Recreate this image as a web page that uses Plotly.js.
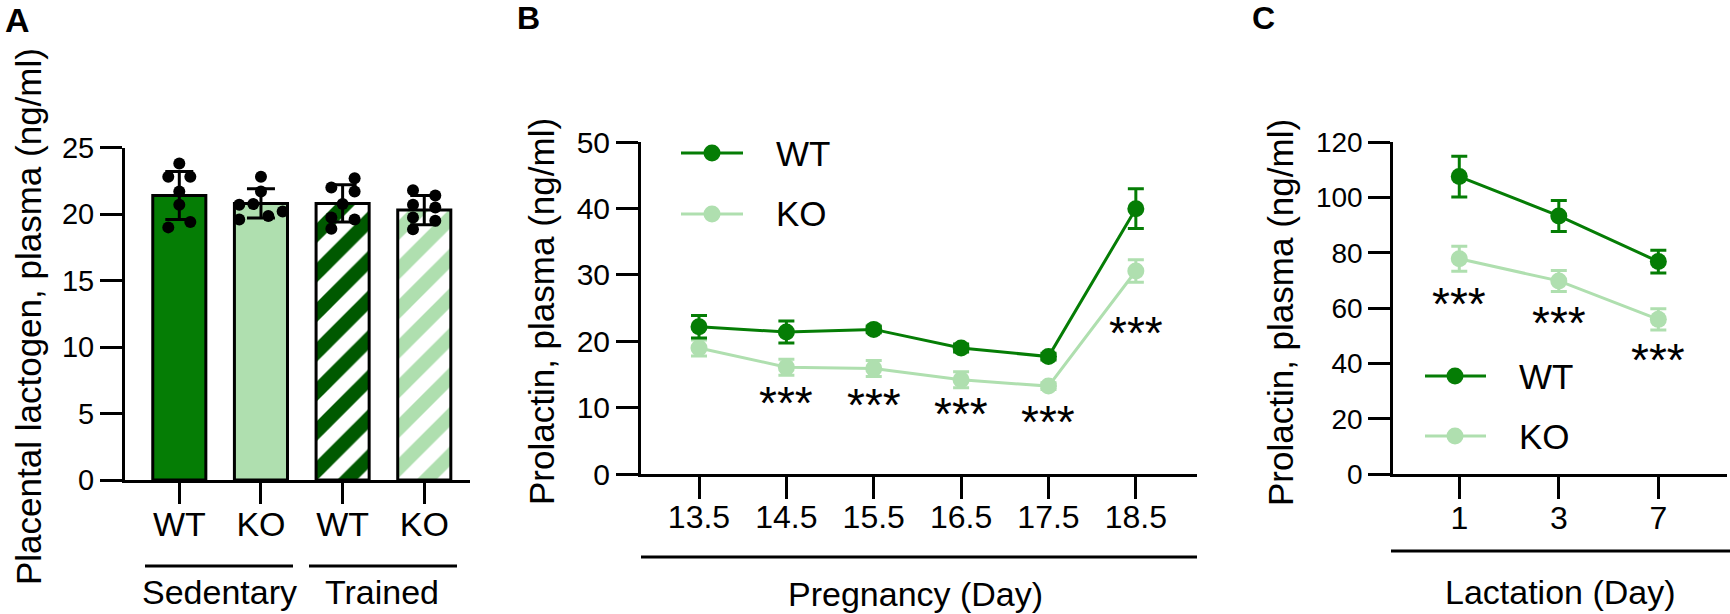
<!DOCTYPE html>
<html>
<head>
<meta charset="utf-8">
<script src="https://cdn.plot.ly/plotly-3.0.1.min.js"></script>
<style>html,body{margin:0;padding:0;background:#fff;}#chart{width:1730px;height:614px;}</style>
</head>
<body>
<div id="chart"></div>
<script>
// ---------- DATA ----------
// Panel A: placental lactogen (bars = mean, error = SD, dots = individual animals)
const catA = ['WT', 'KO', 'WT', 'KO'];
const groupsA = ['Sedentary', 'Trained'];
const meanA = [21.4, 20.8, 20.8, 20.3];
const sdA = [1.8, 1.1, 1.4, 1.1];
const dotsA = [
  [23.8, 22.8, 22.8, 21.7, 20.7, 19.0, 19.4],
  [22.8, 21.7, 20.7, 20.75, 19.6, 19.85, 20.2],
  [22.0, 22.7, 21.7, 20.75, 19.75, 19.6, 18.9],
  [21.8, 21.4, 20.7, 20.5, 19.75, 19.5, 18.85]
];
const jitterA = [
  [0, -0.135, 0.135, 0, 0, -0.135, 0.135],
  [0, 0, -0.266, -0.094, -0.266, 0.09, 0.266],
  [-0.138, 0.147, 0.147, 0, -0.138, 0.147, -0.138],
  [-0.138, 0.135, -0.138, 0.135, -0.138, 0.135, -0.138]
];
// Panel B: prolactin during pregnancy
const daysB = ['13.5', '14.5', '15.5', '16.5', '17.5', '18.5'];
const wtB = [22.2, 21.4, 21.8, 19.0, 17.7, 40.0];
const wtBerr = [1.7, 1.65, 0.5, 0.6, 0.5, 3.0];
const koB = [19.0, 16.1, 15.9, 14.2, 13.25, 30.6];
const koBerr = [1.2, 1.2, 1.2, 1.2, 0.5, 1.7];
const sigB = ['', '***', '***', '***', '***', '***'];
const sigYB = [null, 12.2, 11.9, 10.5, 9.4, 22.7];
// Panel C: prolactin during lactation
const daysC = ['1', '3', '7'];
const wtC = [107.6, 93.4, 76.9];
const wtCerr = [7.4, 5.6, 4.1];
const koC = [77.9, 69.9, 56.0];
const koCerr = [4.5, 3.8, 3.8];
const sigC = ['***', '***', '***'];
const sigYC = [65.2, 58.4, 45.0];
const seriesNames = ['WT', 'KO'];

// ---------- STYLE ----------
const W = 1730, H = 614;
const FONT = 'Liberation Sans, Arial, Helvetica, sans-serif';
const DARK = '#057d05', LIGHT = '#afdfaf', STRIPE = '#005900';
const fx = p => p / W;
const fy = p => 1 - p / H;
// per-bar fill style for panel A (solid, solid, hatched, hatched)
const barStyleA = [
  {fill: DARK, hatch: null},
  {fill: LIGHT, hatch: null},
  {fill: '#ffffff', hatch: STRIPE},
  {fill: '#ffffff', hatch: LIGHT}
];

function axisBase(extra) {
  return Object.assign({
    showline: true, linewidth: 3, linecolor: '#000', mirror: false,
    ticks: 'outside', ticklen: 22, tickwidth: 3, tickcolor: '#000',
    showgrid: false, zeroline: false, fixedrange: true,
    tickfont: {family: FONT, size: 30, color: '#000'}
  }, extra);
}

const traces = [];
// A bars (one trace per bar so each gets its own fill / hatch)
meanA.forEach((m, i) => {
  const st = barStyleA[i];
  const marker = {color: st.fill, line: {color: '#000', width: 3}};
  if (st.hatch) {
    marker.pattern = {shape: '/', fgcolor: st.hatch, bgcolor: '#ffffff', fgopacity: 1, size: 28, solidity: 0.5, fillmode: 'replace'};
  }
  traces.push({
    type: 'bar', x: [i], y: [m], xaxis: 'x', yaxis: 'y', width: 0.65,
    marker: marker,
    error_y: {type: 'data', array: [sdA[i]], visible: true, color: '#000', thickness: 3, width: 14},
    cliponaxis: false, hoverinfo: 'skip'
  });
});
// A dots
const dx = [], dy = [];
dotsA.forEach((arr, i) => arr.forEach((v, j) => { dx.push(i + jitterA[i][j]); dy.push(v); }));
traces.push({
  type: 'scatter', mode: 'markers', x: dx, y: dy, xaxis: 'x', yaxis: 'y',
  marker: {color: '#000', size: 12}, cliponaxis: false, hoverinfo: 'skip'
});
// B / C lines
function lineTrace(x, y, err, color, xa, ya) {
  return {
    type: 'scatter', mode: 'lines+markers', x: x, y: y, xaxis: xa, yaxis: ya,
    line: {color: color, width: 3}, marker: {color: color, size: 17},
    error_y: {type: 'data', array: err, visible: true, color: color, thickness: 3, width: 8},
    cliponaxis: false, hoverinfo: 'skip'
  };
}
traces.push(lineTrace(daysB, koB, koBerr, LIGHT, 'x2', 'y2'));
traces.push(lineTrace(daysB, wtB, wtBerr, DARK, 'x2', 'y2'));
traces.push(lineTrace(daysC, koC, koCerr, LIGHT, 'x3', 'y3'));
traces.push(lineTrace(daysC, wtC, wtCerr, DARK, 'x3', 'y3'));

const annotations = [];
const shapes = [];
function txt(text, x, y, size, opts) {
  annotations.push(Object.assign({
    text: text, x: fx(x), y: fy(y), xref: 'paper', yref: 'paper',
    xanchor: 'center', yanchor: 'middle', showarrow: false,
    font: {family: FONT, size: size, color: '#000'}
  }, opts || {}));
}
function hline(x0, x1, y) {
  shapes.push({type: 'line', xref: 'paper', yref: 'paper', x0: fx(x0), x1: fx(x1), y0: fy(y), y1: fy(y), line: {color: '#000', width: 3}});
}
// panel letters
txt('<b>A</b>', 17, 20, 34);
txt('<b>B</b>', 528, 18, 32);
txt('<b>C</b>', 1263, 18, 32);
// y titles
txt('Placental lactogen, plasma (ng/ml)', 28, 317, 35, {textangle: -90});
txt('Prolactin, plasma (ng/ml)', 541, 312, 35, {textangle: -90});
txt('Prolactin, plasma (ng/ml)', 1280, 313, 35, {textangle: -90});
// group labels A
hline(145, 293, 566); hline(309, 457, 566);
txt(groupsA[0], 219, 592, 34);
txt(groupsA[1], 382, 592, 34);
// x titles
hline(641, 1197, 557);
txt('Pregnancy (Day)', 916, 594, 34);
hline(1391, 1730, 551);
txt('Lactation (Day)', 1560, 592, 34);
// significance stars
sigB.forEach((s, i) => { if (s) annotations.push({text: s, x: i, y: sigYB[i], xref: 'x2', yref: 'y2', showarrow: false, yshift: -10, font: {family: FONT, size: 46, color: '#000'}}); });
sigC.forEach((s, i) => { if (s) annotations.push({text: s, x: i, y: sigYC[i], xref: 'x3', yref: 'y3', showarrow: false, yshift: -10, font: {family: FONT, size: 46, color: '#000'}}); });
// legends (line + marker samples)
function legendItem(xl0, xl1, xm, y, color, label, xt) {
  shapes.push({type: 'line', xref: 'paper', yref: 'paper', x0: fx(xl0), x1: fx(xl1), y0: fy(y), y1: fy(y), line: {color: color, width: 3}});
  shapes.push({type: 'circle', xref: 'paper', yref: 'paper', xsizemode: 'pixel', ysizemode: 'pixel', xanchor: fx(xm), yanchor: fy(y), x0: -8.5, x1: 8.5, y0: -8.5, y1: 8.5, fillcolor: color, line: {width: 0}});
  txt(label, xt, y, 35, {xanchor: 'left'});
}
legendItem(681, 743, 712, 153, DARK, seriesNames[0], 774);
legendItem(681, 743, 712, 214, LIGHT, seriesNames[1], 774);
legendItem(1425, 1486, 1455, 376, DARK, seriesNames[0], 1517);
legendItem(1425, 1486, 1455, 436, LIGHT, seriesNames[1], 1517);

const layout = {
  width: W, height: H, autosize: false, showlegend: false,
  margin: {l: 0, r: 0, t: 0, b: 0, pad: 0},
  paper_bgcolor: '#fff', plot_bgcolor: 'rgba(0,0,0,0)',
  font: {family: FONT, color: '#000'},
  barmode: 'overlay', bargap: 0,
  xaxis: axisBase({domain: [fx(125), fx(470)], range: [-0.665, 3.56], tickvals: [0, 1, 2, 3], ticktext: catA, ticklen: 21, tickfont: {family: FONT, size: 34, color: '#000'}, ticklabelstandoff: -9, anchor: 'y'}),
  yaxis: axisBase({domain: [fy(480), fy(147.6)], range: [0, 25], tickvals: [0, 5, 10, 15, 20, 25], tickfont: {family: FONT, size: 29, color: '#000'}, anchor: 'x'}),
  xaxis2: axisBase({domain: [fx(641), fx(1197)], range: [-0.664, 5.70], type: 'category', tickfont: {family: FONT, size: 32, color: '#000'}, ticklabelstandoff: -9, anchor: 'y2'}),
  yaxis2: axisBase({domain: [fy(474), fy(142.3)], range: [0, 50], tickvals: [0, 10, 20, 30, 40, 50], tickfont: {family: FONT, size: 30, color: '#000'}, anchor: 'x2'}),
  xaxis3: axisBase({domain: [fx(1393.3), fx(1726.7)], range: [-0.663, 2.687], type: 'category', tickfont: {family: FONT, size: 32, color: '#000'}, ticklabelstandoff: -9, anchor: 'y3'}),
  yaxis3: axisBase({domain: [fy(474.3), fy(142.3)], range: [0, 120], tickvals: [0, 20, 40, 60, 80, 100, 120], tickfont: {family: FONT, size: 28, color: '#000'}, anchor: 'x3'}),
  annotations: annotations,
  shapes: shapes
};

Plotly.newPlot('chart', traces, layout, {staticPlot: true, displayModeBar: false});
</script>
</body>
</html>
